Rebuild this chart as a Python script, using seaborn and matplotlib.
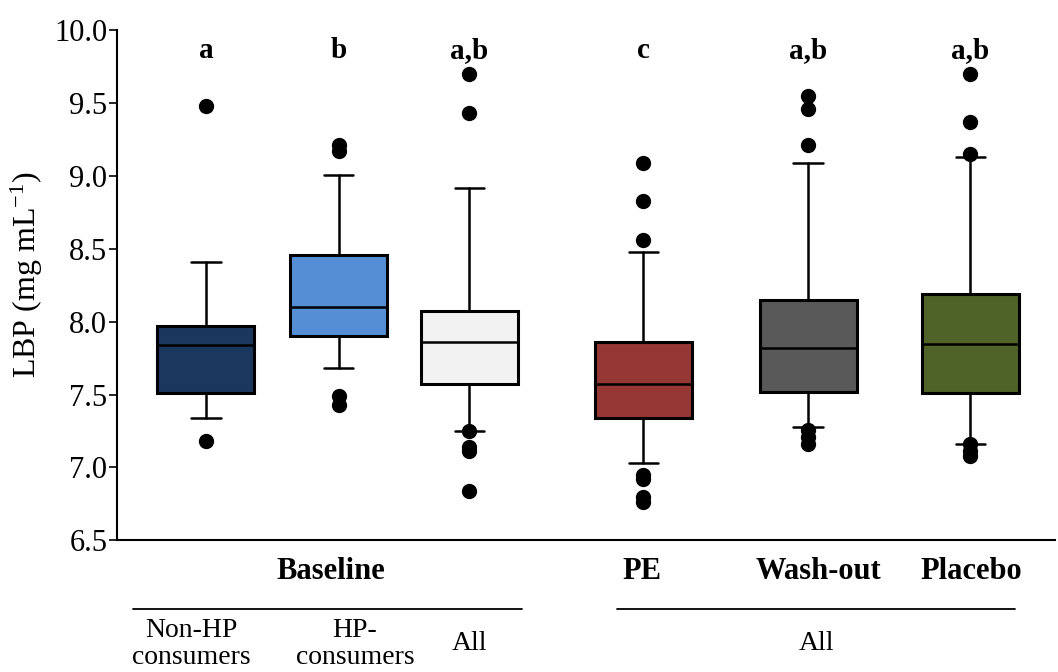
import numpy as np
import matplotlib
matplotlib.use("Agg")
import matplotlib.pyplot as plt
import seaborn as sns

# box statistics (LBP, mg/mL)
groups = ["Non-HP consumers", "HP-consumers", "All (Baseline)", "PE", "Wash-out", "Placebo"]
q1 = [7.51, 7.90, 7.57, 7.34, 7.52, 7.51]
med = [7.84, 8.10, 7.86, 7.57, 7.82, 7.85]
q3 = [7.97, 8.46, 8.07, 7.86, 8.15, 8.19]
whislo = [7.34, 7.68, 7.25, 7.03, 7.28, 7.16]
whishi = [8.41, 9.01, 8.92, 8.48, 9.09, 9.13]
fliers = [
    [9.48, 7.18],
    [9.21, 9.17, 7.49, 7.43],
    [9.70, 9.43, 7.25, 7.14, 7.11, 6.84],
    [9.09, 8.83, 8.56, 6.95, 6.92, 6.80, 6.76],
    [9.55, 9.46, 9.21, 7.26, 7.21, 7.16],
    [9.70, 9.37, 9.15, 7.16, 7.11, 7.08],
]
letters = ["a", "b", "a,b", "c", "a,b", "a,b"]
colors = ["#1b375e", "#558ed5", "#f2f2f2", "#953735", "#595959", "#4f6228"]

positions = [1.0, 2.0, 2.98, 4.29, 5.53, 6.75]

sns.set_theme(style="ticks")
plt.rcParams["font.family"] = ["Liberation Serif", "DejaVu Serif"]
plt.rcParams["mathtext.fontset"] = "custom"
plt.rcParams["mathtext.rm"] = "Liberation Serif"
plt.rcParams["mathtext.default"] = "regular"
plt.rcParams["text.color"] = "black"
plt.rcParams["axes.labelcolor"] = "black"
plt.rcParams["ytick.color"] = "black"
plt.rcParams["axes.edgecolor"] = "black"

fig = plt.figure(figsize=(10.58, 6.72), dpi=100)
ax = fig.add_axes([0.1106, 0.196, 0.887, 0.759])

stats = []
for i in range(len(groups)):
    stats.append(dict(label=groups[i], q1=q1[i], med=med[i], q3=q3[i],
                      whislo=whislo[i], whishi=whishi[i], fliers=fliers[i]))

bp = ax.bxp(stats, positions=positions, widths=0.73, capwidths=0.22,
            patch_artist=True, showfliers=True,
            boxprops=dict(linewidth=2.2, edgecolor="black"),
            medianprops=dict(color="black", linewidth=1.8),
            whiskerprops=dict(color="black", linewidth=1.8),
            capprops=dict(color="black", linewidth=1.8),
            flierprops=dict(marker="o", markerfacecolor="black",
                            markeredgecolor="black", markersize=10))
for patch, c in zip(bp["boxes"], colors):
    patch.set_facecolor(c)

ax.set_xlim(0.331, 7.391)
ax.set_ylim(6.5, 10.0)
ax.set_yticks(np.arange(6.5, 10.01, 0.5))
ax.set_yticklabels([f"{v:.1f}" for v in np.arange(6.5, 10.01, 0.5)], fontsize=22)
ax.set_xticks([])
ax.set_ylabel("LBP (mg mL$^{-1}$)", fontsize=23)
ax.yaxis.set_label_coords(-0.077, 0.52)
sns.despine(ax=ax)
ax.spines["left"].set_linewidth(1.5)
ax.spines["bottom"].set_linewidth(1.5)
ax.tick_params(axis="y", length=6, width=1.2, pad=1)

# significance letters
for x, lab in zip(positions, letters):
    ax.text(x, 9.86, lab, ha="center", va="center", fontsize=21, fontweight="bold")

trans = ax.get_xaxis_transform()
# group labels under the axis
for x, lab in zip([1.94, 4.28, 5.61, 6.76], ["Baseline", "PE", "Wash-out", "Placebo"]):
    ax.text(x, -0.061, lab, transform=trans, ha="center", va="center",
            fontsize=22, fontweight="bold")
ax.plot([0.45, 3.38], [-0.135, -0.135], transform=trans, color="black",
        linewidth=1.3, clip_on=False)
ax.plot([4.09, 7.09], [-0.135, -0.135], transform=trans, color="black",
        linewidth=1.3, clip_on=False)
for x, lab in zip([0.89, 2.12, 2.98, 5.59],
                  ["Non-HP\nconsumers", "HP-\nconsumers", "All", "All"]):
    ax.text(x, -0.203, lab, transform=trans, ha="center", va="center",
            fontsize=20, linespacing=1.1)

fig.savefig("out.png", dpi=100)
